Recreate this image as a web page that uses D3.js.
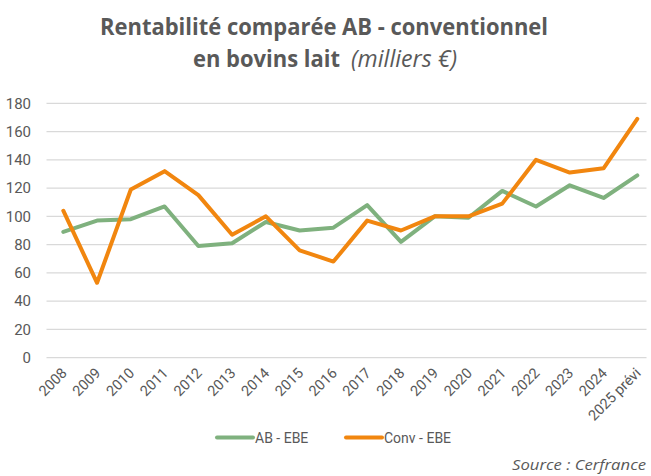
<!DOCTYPE html>
<html>
<head>
<meta charset="utf-8">
<script src="https://d3js.org/d3.v7.min.js"></script>
<style>
  body { margin: 0; background: #fff; }
</style>
</head>
<body>
<div id="chart-area"></div>
<script>
var years = ["2008", "2009", "2010", "2011", "2012", "2013", "2014", "2015", "2016",
  "2017", "2018", "2019", "2020", "2021", "2022", "2023", "2024", "2025 prévi"]
var abEbe = [89, 97, 98, 107, 79, 81, 96, 90, 92, 108, 82, 100, 99, 118, 107, 122, 113, 129]
var convEbe = [104, 53, 119, 132, 115, 87, 100, 76, 68, 97, 90, 100, 100, 109, 140, 131, 134, 169]
var yTicks = [0, 20, 40, 60, 80, 100, 120, 140, 160, 180]
var seriesNames = ["AB - EBE", "Conv - EBE"]

var width = 651
var height = 476
var grey = "#595959"
var colors = ["#7fb17e", "#f1860f"]
var font = "Roboto, 'Liberation Sans', sans-serif"
var titleFont = "'Liberation Sans Narrow', 'Open Sans', sans-serif"

var svg = d3.select("#chart-area").append("svg")
.attr("width", width)
.attr("height", height)

// Title
svg.append("text")
.attr("x", 100)
.attr("y", 35)
.attr("font-family", titleFont)
.attr("font-weight", "bold")
.attr("font-size", "24px")
.attr("textLength", 448)
.attr("lengthAdjust", "spacingAndGlyphs")
.style("fill", grey)
.text("Rentabilité comparée AB - conventionnel")

svg.append("text")
.attr("x", 193)
.attr("y", 67)
.attr("font-family", titleFont)
.attr("font-weight", "bold")
.attr("font-size", "24px")
.attr("textLength", 147)
.attr("lengthAdjust", "spacingAndGlyphs")
.style("fill", grey)
.text("en bovins lait")

svg.append("text")
.attr("x", 351)
.attr("y", 67)
.attr("font-family", titleFont)
.attr("font-style", "italic")
.attr("font-size", "24px")
.attr("textLength", 106)
.attr("lengthAdjust", "spacingAndGlyphs")
.style("fill", grey)
.text("(milliers €)")

var x = d3.scalePoint()
.domain(years)
.range([63.3, 637.3])

var y = d3.scaleLinear()
.domain([0, 180])
.range([357.7, 103.3])

// gridlines
svg.append("g")
.selectAll("line")
.data(yTicks)
.enter().append("line")
.attr("x1", 46.5)
.attr("x2", 646.5)
.attr("y1", d => y(d))
.attr("y2", d => y(d))
.attr("stroke", "#d9d9d9")
.attr("stroke-width", 1.3)

// Y axis
var yAxisGroup = svg.append("g")
.attr("transform", "translate(31, 0)")
.call(d3.axisLeft(y).tickValues(yTicks).tickSize(0).tickPadding(0))

yAxisGroup.select(".domain").remove()
yAxisGroup.selectAll("text")
.attr("font-family", font)
.attr("font-size", "15px")
.style("fill", grey)

// X axis
var xAxisGroup = svg.append("g")
.attr("transform", "translate(0, 358)")
.call(d3.axisBottom(x).tickSize(0).tickPadding(0))

xAxisGroup.select(".domain").remove()
xAxisGroup.selectAll("text")
.attr("font-family", font)
.attr("font-size", "14.5px")
.attr("text-anchor", "end")
.attr("dy", 0)
.attr("transform", "translate(4, 16) rotate(-45)")
.style("fill", grey)

// Lines
var line = d3.line()
.x((d, i) => x(years[i]))
.y(d => y(d))

;[abEbe, convEbe].forEach((series, i) => {
  svg.append("path")
  .attr("d", line(series))
  .attr("fill", "none")
  .attr("stroke", colors[i])
  .attr("stroke-width", 4)
  .attr("stroke-linejoin", "round")
  .attr("stroke-linecap", "round")
})

// Legend
var legendX = [217, 346]
seriesNames.forEach((name, i) => {
  svg.append("line")
  .attr("x1", legendX[i])
  .attr("x2", legendX[i] + 36)
  .attr("y1", 437.5)
  .attr("y2", 437.5)
  .attr("stroke", colors[i])
  .attr("stroke-width", 4)
  .attr("stroke-linecap", "round")

  svg.append("text")
  .attr("x", legendX[i] + 38)
  .attr("y", 442.5)
  .attr("font-family", font)
  .attr("font-size", "14px")
  .style("fill", grey)
  .text(name)
})

// Source
svg.append("text")
.attr("x", 646)
.attr("y", 470)
.attr("text-anchor", "end")
.attr("font-family", "'Open Sans', sans-serif")
.attr("font-style", "italic")
.attr("font-size", "15px")
.attr("textLength", 134)
.attr("lengthAdjust", "spacingAndGlyphs")
.style("fill", grey)
.text("Source : Cerfrance")
</script>
</body>
</html>
